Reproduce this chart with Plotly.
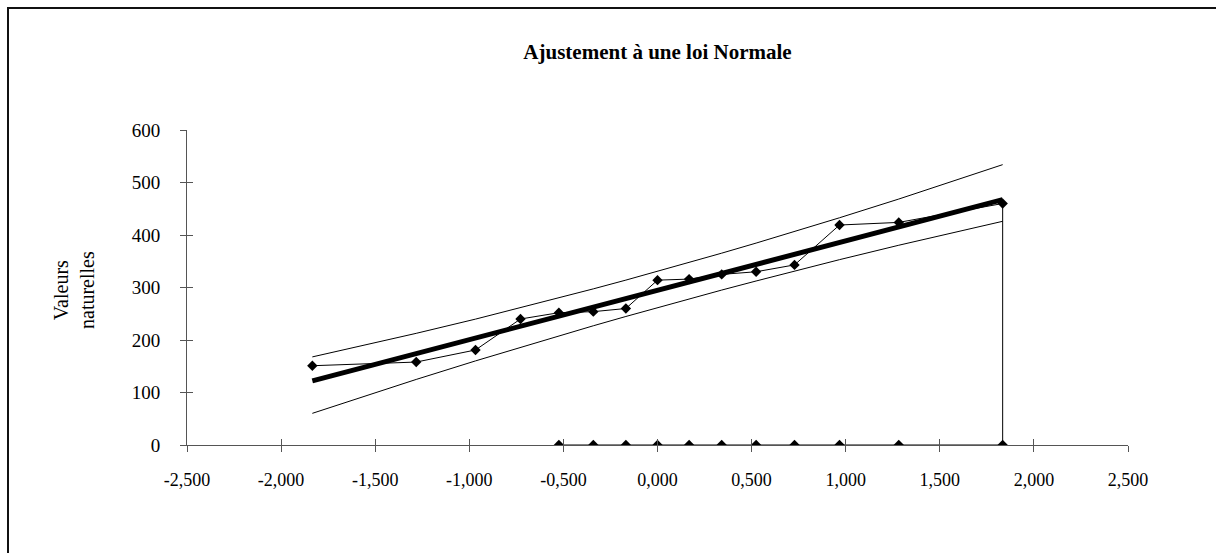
import plotly.graph_objects as go

# Normal quantiles of the 15 plotting positions (Hazen)
z_scores = [-1.834, -1.282, -0.967, -0.728, -0.524, -0.341, -0.168, 0.0,
            0.168, 0.341, 0.524, 0.728, 0.967, 1.282, 1.834]
# Sorted observed values
observed = [151, 158, 181, 240, 252, 254, 260, 314, 316, 325, 330, 343, 419, 424, 460]
# Fitted normal line
fitted = [122.1, 174.1, 203.7, 226.2, 245.4, 262.6, 278.9, 294.7,
          310.5, 326.8, 344.0, 363.2, 385.7, 415.3, 467.3]
# Confidence band
upper_band = [167.8, 212.7, 239.8, 261.3, 280.0, 297.4, 314.1, 330.7,
              347.7, 365.4, 384.6, 406.5, 432.8, 468.5, 534.0]
lower_band = [60.3, 124.9, 160.2, 186.2, 208.0, 227.1, 244.8, 261.7,
              278.2, 295.1, 312.4, 331.4, 353.0, 380.5, 426.1]
# Extra points of the series lying on the horizontal axis
zero_x = [1.834, 1.282, 0.967, 0.728, 0.524, 0.341, 0.168, 0.0, -0.168, -0.341, -0.524]
zero_y = [0] * len(zero_x)

x_ticks = [-2.5, -2.0, -1.5, -1.0, -0.5, 0.0, 0.5, 1.0, 1.5, 2.0, 2.5]
x_tick_text = ["-2,500", "-2,000", "-1,500", "-1,000", "-0,500", "0,000",
               "0,500", "1,000", "1,500", "2,000", "2,500"]
y_ticks = [0, 100, 200, 300, 400, 500, 600]

W, H = 1216, 553
L, R, T, B = 187, 1128, 130, 445

FONT = "Liberation Serif, Times New Roman, serif"
AX = "#555555"

fig = go.Figure()

fig.add_trace(go.Scatter(x=z_scores, y=fitted, mode="lines",
                         line=dict(color="black", width=5), hoverinfo="skip"))
fig.add_trace(go.Scatter(x=z_scores, y=upper_band, mode="lines",
                         line=dict(color="black", width=1)))
fig.add_trace(go.Scatter(x=z_scores, y=lower_band, mode="lines",
                         line=dict(color="black", width=1)))
fig.add_trace(go.Scatter(x=z_scores + zero_x, y=observed + zero_y, mode="lines+markers",
                         line=dict(color="black", width=1),
                         marker=dict(symbol="diamond", size=8, color="black")))
# empty trace so the companion axes (inner tick halves) get drawn
fig.add_trace(go.Scatter(x=[None], y=[None], xaxis="x2", yaxis="y2",
                         mode="lines", hoverinfo="skip"))

axis_common = dict(showgrid=False, zeroline=False, color="black")

fig.update_layout(
    width=W, height=H,
    margin=dict(l=L, r=W - R, t=T, b=H - B),
    paper_bgcolor="white", plot_bgcolor="white",
    showlegend=False,
    font=dict(family=FONT, color="black"),
    title=dict(text="<b>Ajustement à une loi Normale</b>",
               font=dict(family=FONT, size=21, color="black"),
               x=0.5, xref="paper", y=1 - 52 / H, yanchor="middle"),
    xaxis=dict(range=[-2.5, 2.5], tickvals=x_ticks, ticktext=x_tick_text,
               ticks="outside", ticklen=6, tickcolor=AX, tickwidth=1,
               showline=True, linecolor=AX, linewidth=1, ticklabelstandoff=12,
               tickfont=dict(family=FONT, size=18, color="black"),
               **axis_common),
    yaxis=dict(range=[0, 600], tickvals=y_ticks,
               ticks="outside", ticklen=6, tickcolor=AX, tickwidth=1,
               showline=True, linecolor=AX, linewidth=1, ticklabelstandoff=16,
               tickfont=dict(family=FONT, size=19, color="black"),
               **axis_common),
    # companion axes drawing the inner half of the crossing tick marks
    xaxis2=dict(overlaying="x", anchor="y2", range=[-2.5, 2.5], tickvals=x_ticks,
                ticks="inside", ticklen=6, tickcolor=AX, showticklabels=False,
                showline=False, showgrid=False, zeroline=False, side="bottom"),
    yaxis2=dict(overlaying="y", anchor="x2", range=[0, 600], tickvals=y_ticks,
                ticks="inside", ticklen=6, tickcolor=AX, showticklabels=False,
                showline=False, showgrid=False, zeroline=False, side="left"),
)

fig.add_annotation(text="Valeurs<br>naturelles", textangle=-90,
                   xref="paper", yref="paper", xanchor="center", yanchor="middle",
                   x=(74 - L) / (R - L), y=(B - 290) / (B - T),
                   showarrow=False, font=dict(family=FONT, size=20, color="black"))

# outer frame of the chart area
fig.add_shape(type="rect", xref="paper", yref="paper",
              x0=(8 - L) / (R - L), x1=(W + 20 - L) / (R - L),
              y0=(B - (H + 20)) / (B - T), y1=(B - 8) / (B - T),
              line=dict(color="#111111", width=2), layer="below")

fig.write_html("out.html")
